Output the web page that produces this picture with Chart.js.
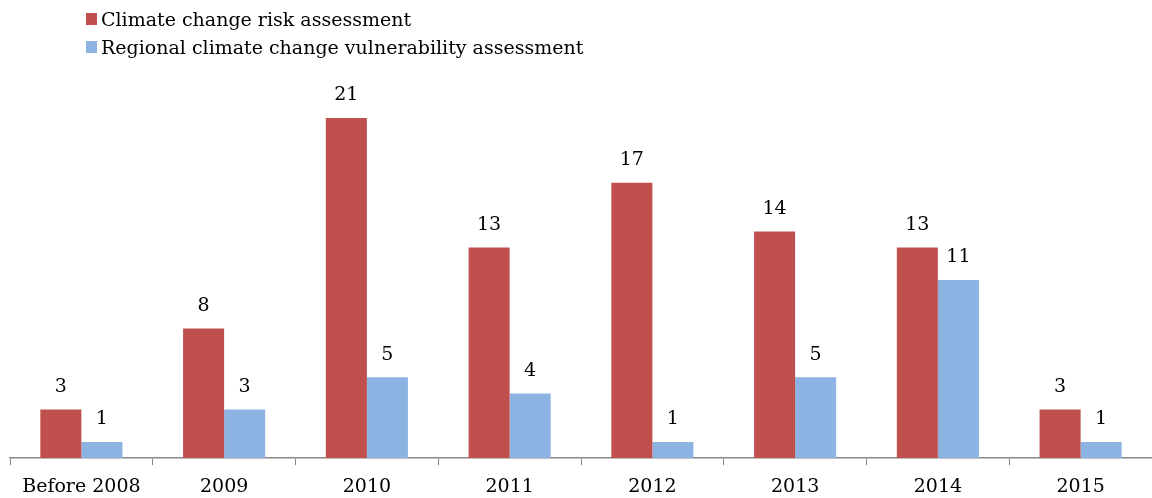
<!DOCTYPE html>
<html>
<head>
<meta charset="utf-8">
<script src="https://cdn.jsdelivr.net/npm/chart.js@4"></script>
<style>
  html, body { margin: 0; padding: 0; background: #fff; overflow: hidden; }
  #wrap { position: relative; width: 1152px; height: 498px; overflow: hidden; }
  #legend { position: absolute; left: 86px; top: 5px; font-family: "DejaVu Serif", serif; font-size: 19px; color: #000; }
  .item { display: flex; align-items: center; height: 28px; }
  .box { width: 11px; height: 12px; margin-right: 4px; }
</style>
</head>
<body>
<div id="wrap">
  <canvas id="chart" width="1152" height="508"></canvas>
  <div id="legend"></div>
</div>
<script>
// Values
const years = ["Before 2008", "2009", "2010", "2011", "2012", "2013", "2014", "2015"];
const riskCounts = [3, 8, 21, 13, 17, 14, 13, 3];
const vulnerabilityCounts = [1, 3, 5, 4, 1, 5, 11, 1];
const seriesNames = ["Climate change risk assessment", "Regional climate change vulnerability assessment"];
const seriesColors = ["#C0504D", "#8DB3E2"];

const fontFamily = '"DejaVu Serif", serif';

// draws the number over every bar
const valueLabels = {
  id: "valueLabels",
  afterDatasetsDraw(chart) {
    const c = chart.ctx;
    c.save();
    c.font = "19px " + fontFamily;
    c.fillStyle = "#000";
    c.textAlign = "center";
    c.textBaseline = "bottom";
    chart.data.datasets.forEach((ds, i) => {
      chart.getDatasetMeta(i).data.forEach((bar, j) => {
        c.fillText(ds.data[j], bar.x, bar.y - 13);
      });
    });
    c.restore();
  },
};

const ctx = document.getElementById("chart").getContext("2d");
const chart = new Chart(ctx, {
  type: "bar",
  data: {
    labels: years,
    datasets: [
      { label: seriesNames[0], data: riskCounts, backgroundColor: seriesColors[0] },
      { label: seriesNames[1], data: vulnerabilityCounts, backgroundColor: seriesColors[1] },
    ],
  },
  options: {
    responsive: false,
    animation: false,
    layout: { padding: { top: 118, left: 10, right: 0, bottom: 0 } },
    datasets: { bar: { categoryPercentage: 0.575, barPercentage: 1 } },
    plugins: { legend: { display: false }, tooltip: { enabled: false } },
    scales: {
      x: {
        grid: { offset: true, drawOnChartArea: false, color: "#888", tickLength: 7 },
        border: { color: "#888", width: 1.5 },
        ticks: { color: "#000", padding: 10, font: { family: fontFamily, size: 19 } },
      },
      y: { display: false, min: 0, max: 21 },
    },
  },
  plugins: [valueLabels],
});

// legend as two stacked rows
const legend = document.getElementById("legend");
chart.data.datasets.forEach((ds) => {
  const row = document.createElement("div");
  row.className = "item";
  const box = document.createElement("span");
  box.className = "box";
  box.style.background = ds.backgroundColor;
  const text = document.createElement("span");
  text.textContent = ds.label;
  row.appendChild(box);
  row.appendChild(text);
  legend.appendChild(row);
});
</script>
</body>
</html>
